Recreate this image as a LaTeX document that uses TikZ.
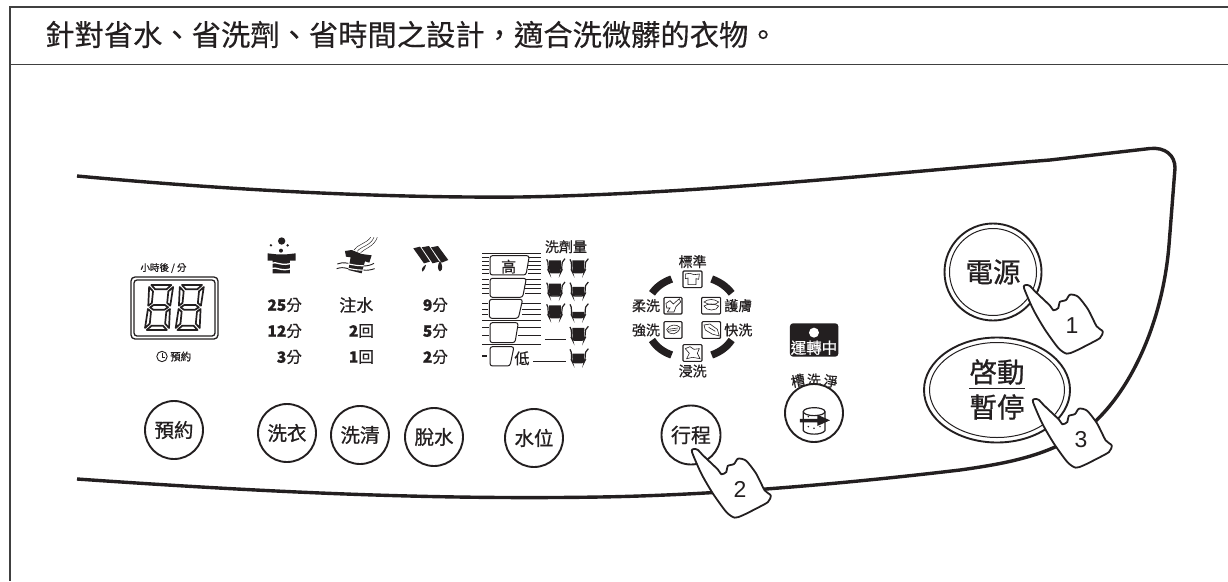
\documentclass[tikz,border=0pt]{standalone}
\usepackage{fontspec}
\usetikzlibrary{shapes.geometric}
\setmainfont{Liberation Sans}
\newfontfamily\cjk[FakeBold=0.8]{Noto Sans CJK TC}
\newfontfamily\cjktitle[FakeBold=0.35]{Noto Sans CJK TC}
\newcommand{\fsz}[1]{\fontsize{#1}{#1}\selectfont}
\definecolor{ink}{HTML}{231F20}
\tikzset{
  x=1pt,y=-1pt,
  every node/.style={inner sep=0pt,text=ink},
  frameline/.style={draw=black!75,line width=1.1pt},
  panelline/.style={draw=ink,line width=3.4pt},
  btn/.style={circle,draw=ink,line width=1.9pt,minimum size=58pt,fill=white,font=\cjk\fsz{19.5}},
  lbl/.style={font=\cjk\fsz{14}},
  rowlbl/.style={anchor=east,font=\cjk\fsz{15.5}},
  tiny/.style={draw=ink,line width=.6pt},
  iconbox/.style={draw=ink,line width=1.1pt,rounded corners=1pt,fill=white},
  zoomA/.style={shift={(100,220)},x=.3333pt,y=-.3333pt},
  zoomB/.style={shift={(450,220)},x=.3333pt,y=-.3333pt},
  zoomC/.style={shift={(610,240)},x=.3333pt,y=-.3333pt},
  hand/.pic={
    \begin{scope}[x=.3333pt,y=-.3333pt]
    \draw[draw=ink,fill=white,line width=1.8pt,line join=round]
      plot[smooth cycle,tension=.45] coordinates {(0,0) (6,-9) (18,-6) (33,10) (78,53) (88,67)
      (103,60) (107,42) (126,36) (138,20) (162,26) (192,64) (218,115) (236,130) (228,150)
      (192,170) (152,190) (128,197) (103,180) (63,125) (28,65)};
    \node[font=\fsz{23}] at (144,112) {#1};
    \end{scope}
  },
  lvlcup/.pic={
    \begin{scope}[x=.3333pt,y=-.3333pt]
    \fill[ink] (-18,{20-#1}) -- (18,{20-#1}) -- (17,20) -- (-17,20) -- cycle;
    \draw[draw=ink,line width=1.2pt,rounded corners=2pt] (-25,-19) .. controls (-21,-16) and (-21,-10) .. (-20,15) -- (-17,21) -- (17,21) -- (20,15) .. controls (21,-8) and (21,-16) .. (30,-21);
    \end{scope}
  }
}
\begin{document}
\begin{tikzpicture}
\useasboundingbox (0,0) rectangle (1228,581);
\fill[white] (0,0) rectangle (1228,581);
% frame
\draw[frameline] (1228,7) -- (10,7) -- (10,581);
\draw[frameline] (10,64.5) -- (1228,64.5);
\node[anchor=west,font=\cjktitle\fsz{29.3}] (title) at (45,34.5) {針對省水、省洗劑、省時間之設計^^^^ff0c適合洗微髒的衣物。};
% panel outline
\draw[panelline,line cap=butt] (77,176) .. controls (250,192) and (400,198) .. (520,197)
  .. controls (700,194) and (900,172) .. (1050,160) -- (1150,148.5)
  .. controls (1165,147) and (1175,155) .. (1175,168)
  -- (1169,245) .. controls (1162,330) and (1125,400) .. (1085,430)
  .. controls (1050,455) and (1010,463) .. (960,470)
  .. controls (850,483) and (720,495) .. (600,497)
  .. controls (420,500) and (250,491) .. (77,479);
% display
\draw[draw=ink,line width=1.3pt,rounded corners=4pt] (131,277) rectangle (218,339);
\draw[draw=ink,line width=1.3pt,rounded corners=3pt] (134,280) rectangle (215,336);
\foreach \dx in {148,240}{
\begin{scope}[zoomA]
\begin{scope}[shift={(\dx,195)},xslant=.1,x=.3333pt,y=-.3333pt]
 \foreach \seg in {
   {(6,0) -- (66,0) -- (53,13) -- (19,13)},
   {(9,67) -- (19,60) -- (53,60) -- (63,67) -- (53,74) -- (19,74)},
   {(6,135) -- (66,135) -- (53,122) -- (19,122)},
   {(0,6) -- (13,19) -- (13,54) -- (3,62)},
   {(72,6) -- (59,19) -- (59,54) -- (69,62)},
   {(0,129) -- (13,116) -- (13,80) -- (3,72)},
   {(72,129) -- (59,116) -- (59,80) -- (69,72)}}{
   \draw[draw=ink,line width=1.7pt,line join=round,fill=white] \seg -- cycle;
 }
\end{scope}
\end{scope}}
\node[font=\cjk\fsz{9.5}] (hourlbl) at (163.5,268) {小時後 / 分};
\draw[draw=ink,line width=.9pt] (162,356.5) circle (5.2);
\draw[draw=ink,line width=.8pt] (162,353) -- (162,357) -- (165,357);
\node[anchor=west,font=\cjk\fsz{10.5}] (yuyue) at (170,356.5) {預約};
% wash icon
\begin{scope}[zoomA]
\fill[ink] (545,63) circle (11) (513,76) circle (4) (563,76) circle (4) (543,92) circle (6);
\fill[ink] (503,100) -- (530,103) -- (560,103) -- (587,100) -- (587,122) -- (570,122) -- (570,160) -- (518,160) -- (518,122) -- (503,122) -- cycle;
\draw[white,line width=1.3pt] (512,130) .. controls (530,122) and (545,142) .. (578,128);
\draw[white,line width=1.3pt] (512,146) .. controls (530,138) and (545,158) .. (578,144);
% rinse icon
\fill[ink] (735,93) -- (755,90) -- (785,102) -- (815,106) -- (808,128) -- (795,124) -- (785,160) -- (745,150) -- (752,112) -- (738,110) -- cycle;
\draw[white,line width=1.1pt] (712,132) .. controls (740,122) and (770,148) .. (822,132);
\draw[white,line width=1.1pt] (712,146) .. controls (740,136) and (770,160) .. (822,146);
\draw[ink,line width=.9pt] (712,132) .. controls (722,128) and (730,127) .. (745,130) (790,138) .. controls (800,138) and (812,136) .. (822,130);
\draw[ink,line width=.9pt] (710,146) .. controls (722,142) and (730,142) .. (745,146) (790,150) .. controls (800,152) and (812,150) .. (824,146);
\draw[ink,line width=.45pt] (762,90) .. controls (770,75) and (800,70) .. (812,52);
\draw[ink,line width=.45pt] (772,94) .. controls (780,80) and (812,78) .. (822,52);
\draw[ink,line width=.45pt] (782,98) .. controls (795,85) and (822,80) .. (832,52);
% spin icon
\fill[ink] (940,85) -- (960,80) -- (990,125) -- (972,130) -- cycle;
\fill[ink] (965,82) -- (987,78) -- (1018,125) -- (998,130) -- cycle;
\fill[ink] (993,82) -- (1014,78) -- (1045,120) -- (1025,128) -- cycle;
\fill[ink] (978,134) .. controls (976,145) and (972,152) .. (968,155) .. controls (962,148) and (968,140) .. (978,134) -- cycle;
\fill[ink] (1020,122) .. controls (1028,135) and (1030,150) .. (1020,154) .. controls (1012,150) and (1012,135) .. (1020,122) -- cycle;
\end{scope}
% rows
\node[rowlbl] (a1) at (302,305) {\textbf{25}分};
\node[rowlbl] (a2) at (302,331) {\textbf{12}分};
\node[rowlbl] (a3) at (302,357) {\textbf{3}分};
\node[rowlbl,font=\cjk\fsz{17}] (b1) at (373.5,305) {注水};
\node[rowlbl] (b2) at (374,331) {\textbf{2}回};
\node[rowlbl] (b3) at (374,357) {\textbf{1}回};
\node[rowlbl] (c1) at (448,305) {\textbf{9}分};
\node[rowlbl] (c2) at (448,331) {\textbf{5}分};
\node[rowlbl] (c3) at (448,357) {\textbf{2}分};
% water level
\begin{scope}[zoomB]
\draw[ink,line width=1.5pt] (97,101) -- (272,101);
\foreach \y in {112,124,136,148,160}{
  \draw[ink,line width=.8pt] (97,\y) -- (116,\y) (235,\y) -- (272,\y);}
\foreach \y in {178,192,206,220}{
  \draw[ink,line width=.8pt] (97,\y) -- (116,\y) (226,\y) -- (272,\y);}
\foreach \y in {250,268,283}{
  \draw[ink,line width=.8pt] (97,\y) -- (114,\y) (216,\y) -- (272,\y);}
\draw[ink,line width=.8pt] (97,301) -- (272,301);
\foreach \y in {322,346}{
  \draw[ink,line width=.8pt] (97,\y) -- (116,\y) (204,\y) -- (272,\y);}
\draw[ink,line width=1pt] (97,374) -- (272,374);
\draw[ink,line width=1.3pt] (97,408) -- (112,408);
\foreach \p in {
  {(120,107) -- (238,107) -- (228,165) -- (120,165)},
  {(120,175) -- (229,175) -- (218,232) -- (120,232)},
  {(118,238) -- (218,238) -- (205,295) -- (118,295)},
  {(120,308) -- (205,308) -- (195,368) -- (120,368)},
  {(120,380) -- (192,380) -- (180,438) -- (120,438)}}{
  \draw[draw=ink,line width=1pt,fill=white,rounded corners=2.5pt] \p -- cycle;
}
\node[font=\cjk\fsz{15}] (high) at (176,140) {高};
\node[font=\cjk\fsz{15}] (low) at (216,415) {低};
\node[font=\cjk\fsz{14}] (deter) at (348,80) {洗劑量};
\draw[ink,line width=.8pt] (285,358) -- (348,358) (250,423) -- (348,423);
\pic at (315,137) {lvlcup=36};
\pic at (385,137) {lvlcup=36};
\pic at (315,207) {lvlcup=36};
\pic at (385,207) {lvlcup=26};
\pic at (315,272) {lvlcup=36};
\pic at (385,272) {lvlcup=16};
\pic at (385,340) {lvlcup=36};
\pic at (385,407) {lvlcup=26};
\end{scope}
% cycle ring
\begin{scope}[zoomC]
\draw[ink,line width=7.4pt] (185,117) .. controls (160,126) and (140,140) .. (126,160);
\draw[ink,line width=7.4pt] (305,117) .. controls (330,126) and (350,140) .. (365,160);
\draw[ink,line width=7.4pt] (126,300) .. controls (140,322) and (160,336) .. (185,345);
\draw[ink,line width=7.4pt] (365,300) .. controls (350,322) and (330,336) .. (305,345);
\draw[iconbox] (219,93) rectangle (276,143);
\draw[iconbox] (162,172) rectangle (216,222);
\draw[iconbox] (275,172) rectangle (332,222);
\draw[iconbox] (162,245) rectangle (216,295);
\draw[iconbox] (276,245) rectangle (332,295);
\draw[iconbox] (219,314) rectangle (276,364);
\draw[tiny] (226,102) -- (240,100) -- (252,104) -- (268,102) -- (266,118) -- (258,116) -- (258,134) -- (234,134) -- (234,114) -- (226,116) -- cycle;
\draw[tiny] (168,190) -- (180,182) -- (190,192) -- (208,176) -- (212,186) -- (198,200) -- (192,216) -- (172,216) -- (180,204) -- (170,204) -- cycle;
\draw[tiny] (282,186) .. controls (295,176) and (312,176) .. (326,186) .. controls (318,196) and (295,196) .. (282,186) -- cycle;
\draw[tiny] (282,198) .. controls (295,190) and (312,190) .. (326,198) .. controls (322,214) and (288,214) .. (282,198) -- cycle;
\draw[tiny] (170,268) .. controls (180,252) and (200,252) .. (210,262) .. controls (206,284) and (178,290) .. (170,268) -- cycle;
\draw[tiny] (174,268) -- (204,264) (174,274) -- (202,270);
\draw[tiny] (282,255) -- (300,252) -- (322,268) -- (328,288) -- (306,282) -- (286,270) -- cycle;
\draw[tiny] (296,262) -- (316,274);
\draw[tiny] (226,326) -- (240,320) -- (252,328) -- (268,326) -- (262,340) -- (270,356) -- (248,352) -- (230,356) -- (238,340) -- cycle;
\node[lbl] (n1) at (248,65) {標準};
\node[lbl] (n2) at (248,393) {浸洗};
\node[lbl] (n3) at (108,197) {柔洗};
\node[lbl] (n4) at (385,197) {護膚};
\node[lbl] (n5) at (108,270) {強洗};
\node[lbl] (n6) at (385,270) {快洗};
% running lamp
\fill[ink,rounded corners=3pt] (540,250) rectangle (685,350);
\fill[white] (612,278) circle (15);
\node[font=\cjk\fsz{15.5},text=white] (run) at (612,323) {運轉中};
\node[font=\cjk\fsz{14},rotate=12] (t1) at (564,422) {槽};
\node[font=\cjk\fsz{14}] (t2) at (612,420) {洗};
\node[font=\cjk\fsz{14},rotate=-12] (t3) at (662,424) {淨};
\end{scope}
% buttons
\node[btn] (b-yy) at (174,430) {預約};
\node[btn] (b-xy) at (287,433) {洗衣};
\node[btn] (b-xq) at (360,435) {洗清};
\node[btn] (b-ts) at (434,437) {脫水};
\node[btn] (b-sw) at (534,438) {水位};
\node[btn,minimum size=59pt,font=\cjk\fsz{20}] (b-xc) at (691,435) {行程};
\node[btn] (b-cx) at (814,413) {};
% drum
\begin{scope}[zoomC]
\draw[draw=ink,line width=1.2pt,fill=white] (580,515) -- (580,572) .. controls (590,586) and (635,586) .. (645,572) -- (645,515);
\draw[draw=ink,line width=1.2pt,fill=white] (612.5,515) ellipse (32.5 and 12);
\fill[ink] (595,560) circle (2.5) (612,565) circle (2.5) (630,560) circle (2.5) (595,530) circle (2.5) (630,530) circle (2.5);
\fill[ink] (570,537) -- (622,537) -- (622,524) -- (660,541) -- (622,558) -- (622,547) -- (570,547) -- cycle;
\end{scope}
% power button
\node[circle,draw=ink,line width=1.9pt,minimum size=97pt,fill=white] (b-pw) at (993,272) {};
\node[circle,draw=ink,line width=1pt,minimum size=87pt,font=\cjk\fsz{27.5}] (b-pwi) at (993,272) {電源};
% start button
\node[ellipse,draw=ink,line width=1.9pt,minimum width=146pt,minimum height=105pt,fill=white] (b-st) at (997,390) {};
\node[ellipse,draw=ink,line width=1pt,minimum width=135pt,minimum height=95pt] (b-sti) at (997,390) {};
\node[font=\cjk\fsz{27.5}] (st1) at (997,372) {啓動};
\node[font=\cjk\fsz{27.5}] (st2) at (997,407) {暫停};
\draw[ink,line width=1.3pt] (st1.south west |- 0,388.5) -- (st1.south east |- 0,388.5);
% hands
\pic at (1024,288) {hand=1};
\pic at (692,452) {hand=2};
\pic at (1033,402) {hand=3};
\end{tikzpicture}
\end{document}
